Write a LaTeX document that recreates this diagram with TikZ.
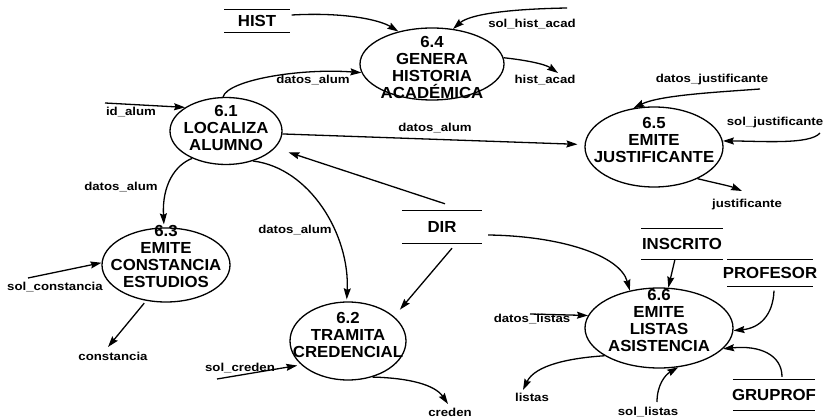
\documentclass[tikz,border=0pt]{standalone}
\usepackage{fontspec}
\setmainfont{Liberation Sans}
\newfontfamily\procfont[FakeStretch=1.05]{Liberation Sans}
\newfontfamily\flowfont[FakeStretch=1.15]{Liberation Sans}
\usetikzlibrary{arrows.meta,shapes.geometric}
\begin{document}
\begin{tikzpicture}[x=1pt,y=-1pt,
  proc/.style={ellipse, draw, line width=1.3pt, inner sep=0pt},
  ptext/.style={font=\procfont\bfseries\fontsize{16}{17}\selectfont, align=center, inner sep=0pt},
  storeline/.style={draw, line width=1.2pt, -},
  store/.style={inner sep=0pt, append after command={(\tikzlastnode.north west) edge[storeline] (\tikzlastnode.north east) (\tikzlastnode.south west) edge[storeline] (\tikzlastnode.south east)}},
  stext/.style={font=\procfont\bfseries\fontsize{16}{17}\selectfont, inner sep=0pt},
  flow/.style={font=\flowfont\bfseries\fontsize{11.5}{12}\selectfont, inner sep=0pt},
  flowline/.style={draw, line width=1.3pt, -{Stealth[length=11pt,width=7pt,inset=1.5pt]}},
]
\fill[white] (0,0) rectangle (826,419);
\useasboundingbox (0,0) rectangle (826,419);

% processes
\node[proc, minimum width=144, minimum height=72, label={[ptext, yshift=-3pt]center:{6.4\\GENERA\\HISTORIA\\ACADÉMICA}}] (p64) at (432,64) {};
\node[proc, minimum width=112, minimum height=67, label={[ptext, yshift=3pt]center:{6.1\\LOCALIZA\\ALUMNO}}] (p61) at (226,131) {};
\node[proc, minimum width=138, minimum height=80, label={[ptext, yshift=7pt]center:{6.5\\EMITE\\JUSTIFICANTE}}] (p65) at (654,147) {};
\node[proc, minimum width=128, minimum height=74, label={[ptext, yshift=9pt]center:{6.3\\EMITE\\CONSTANCIA\\ESTUDIOS}}] (p63) at (166,265) {};
\node[proc, minimum width=116, minimum height=78, label={[ptext, yshift=6pt]center:{6.2\\TRAMITA\\CREDENCIAL}}] (p62) at (348,341) {};
\node[proc, minimum width=148, minimum height=80, label={[ptext, yshift=8pt]center:{6.6\\EMITE\\LISTAS\\ASISTENCIA}}] (p66) at (659,328) {};

% stores
\node[store, minimum width=65, minimum height=23, label={[stext]center:HIST}] (hist) at (257,21) {};
\node[store, minimum width=80, minimum height=32, label={[stext]center:DIR}] (dir) at (442,227) {};
\node[store, minimum width=81, minimum height=30, label={[stext]center:INSCRITO}] (inscrito) at (682,244) {};
\node[store, minimum width=85, minimum height=27, label={[stext]center:PROFESOR}] (profesor) at (770,273) {};
\node[store, minimum width=82, minimum height=30, label={[stext]center:GRUPROF}] (gruprof) at (774,395) {};

% free ends
\coordinate (shA) at (567,8);
\coordinate (haE) at (558,73);
\coordinate (idS) at (105,103);
\coordinate (scS) at (28,278);
\coordinate (coE) at (108,347);
\coordinate (crS) at (217,379);
\coordinate (crE) at (448,404);
\coordinate (djS) at (760,89);
\coordinate (sjS) at (820,133);
\coordinate (juE) at (742,191);
\coordinate (dlS) at (530,314);
\coordinate (liE) at (523,390);
\coordinate (slS) at (657,402);

% connectors
\draw[flowline] ([xshift=2pt,yshift=6pt]hist.east) .. controls (345,12) and (380,20) .. (p64.136);
\draw[flowline] (shA) .. controls (510,9) and (470,14) .. (p64.59);
\draw[flowline] (p64.5) .. controls (525,60) and (545,64) .. (haE);
\draw[flowline] (p61.95) .. controls (228,80) and (300,68) .. (p64.187);
\draw[flowline] (idS) -- (p61.150);
\draw[flowline, shorten >=7pt] (p61.-3) -- (p65.178);
\draw[flowline, shorten >=14pt] ([xshift=3pt,yshift=7pt]dir.north) -- (p61.-19);
\draw[flowline, shorten >=3pt] (p61.219) .. controls (175,165) and (162,185) .. (p63.93);
\draw[flowline, shorten >=2pt] (p61.-48) .. controls (310,168) and (350,235) .. (p62.92);
\draw[flowline, shorten >=9pt] ([xshift=10pt,yshift=-5pt]dir.south) -- (p62.28);
\draw[flowline] ([xshift=6pt,yshift=-8pt]dir.east) .. controls (560,236) and (620,255) .. (p66.128);
\draw[flowline] ([xshift=-7pt]inscrito.south) -- (p66.77);
\draw[flowline] ([xshift=4pt,yshift=-4pt]profesor.south) .. controls (773,315) and (760,328) .. (p66.-2);
\draw[flowline] ([xshift=8pt,yshift=3pt]gruprof.north) .. controls (782,355) and (760,345) .. (p66.-18);
\draw[flowline] (dlS) -- (p66.170);
\draw[flowline] (p66.207) .. controls (570,358) and (535,365) .. (liE);
\draw[flowline] (slS) .. controls (657,385) and (665,375) .. (p66.-64);
\draw[flowline] (scS) -- (p63.178);
\draw[flowline, shorten <=3pt] (p63.241) -- (coE);
\draw[flowline, shorten >=4pt] (crS) -- (p62.207);
\draw[flowline] (p62.-56) .. controls (410,378) and (435,385) .. (crE);
\draw[flowline] (djS) .. controls (720,92) and (660,95) .. (p65.118);
\draw[flowline] (sjS) .. controls (810,145) and (760,141) .. (p65.5);
\draw[flowline] (p65.-36) .. controls (715,183) and (730,186) .. (juE);

% flow labels
\node[flow] (l1) at (313,80) {datos\_alum};
\node[flow] (l2) at (532,24) {sol\_hist\_acad};
\node[flow] (l3) at (545,80) {hist\_acad};
\node[flow] (l4) at (131,112) {id\_alum};
\node[flow] (l5) at (435,128) {datos\_alum};
\node[flow] (l6) at (121,187) {datos\_alum};
\node[flow] (l7) at (295,230) {datos\_alum};
\node[flow] (l8) at (55,287) {sol\_constancia};
\node[flow] (l9) at (113,356) {constancia};
\node[flow] (l10) at (240,368) {sol\_creden};
\node[flow] (l11) at (450,412) {creden};
\node[flow] (l12) at (712,80) {datos\_justificante};
\node[flow] (l13) at (775,123) {sol\_justificante};
\node[flow] (l14) at (747,205) {justificante};
\node[flow] (l15) at (532,319) {datos\_listas};
\node[flow] (l16) at (532,397) {listas};
\node[flow] (l17) at (648,412) {sol\_listas};
\end{tikzpicture}
\end{document}
